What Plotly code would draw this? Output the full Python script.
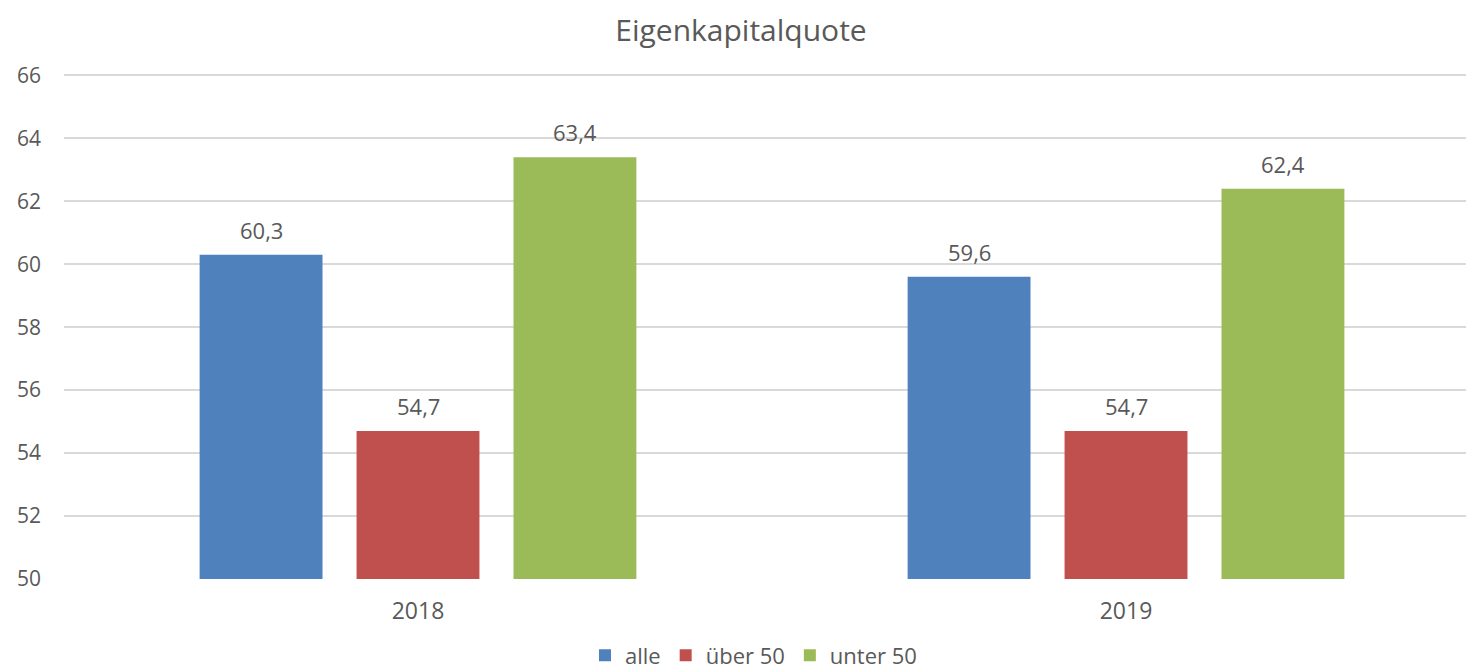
import plotly.graph_objects as go

categories = ["2018", "2019"]
series_names = ["alle", "über 50", "unter 50"]
alle = [60.3, 59.6]
ueber50 = [54.7, 54.7]
unter50 = [63.4, 62.4]
y_ticks = [50, 52, 54, 56, 58, 60, 62, 64, 66]

colors = ["#4F81BD", "#C0504D", "#9BBB59"]
values = [alle, ueber50, unter50]
FONT = "Open Sans"
TXT = "#595959"
AXIS_MIN = 50

fig = go.Figure()
for name, vals, col in zip(series_names, values, colors):
    fig.add_trace(go.Bar(
        x=categories, y=[v - AXIS_MIN for v in vals], base=AXIS_MIN, name=name,
        marker=dict(color=col, line=dict(width=0)),
    ))

slot_px = 157
annotations = []
for i, vals in enumerate(values):
    for ci, v in enumerate(vals):
        annotations.append(dict(
            x=ci, y=v, xref="x", yref="y", text=f"{v:.1f}".replace(".", ","),
            showarrow=False, xshift=(i - 1) * slot_px, yshift=25,
            font=dict(family=FONT, size=22, color=TXT),
        ))

fig.update_layout(
    width=1466, height=663,
    margin=dict(l=56, r=0, t=61, b=92, autoexpand=False),
    paper_bgcolor="white", plot_bgcolor="white",
    title=dict(text="Eigenkapitalquote", x=0.5, xanchor="center", y=0.966, yanchor="middle",
               font=dict(family=FONT, size=30, color=TXT)),
    barmode="group", bargap=0.335, bargroupgap=0.217,
    showlegend=True,
    legend=dict(orientation="h", x=0.489, xanchor="center", y=-0.15, yanchor="middle",
                font=dict(family=FONT, size=22, color=TXT), itemwidth=30,
                traceorder="normal", tracegroupgap=0),
    annotations=annotations,
    font=dict(family=FONT, color=TXT),
)
fig.update_xaxes(type="category", range=[-0.5, 1.4915], showgrid=False, showline=False,
                 automargin=False, ticks="", ticklabelstandoff=16,
                 tickfont=dict(family=FONT, size=23, color=TXT))
fig.update_yaxes(range=[50, 66.2], tickvals=y_ticks, showgrid=True, gridcolor="#D9D9D9",
                 gridwidth=1.5, zeroline=False, showline=False, ticks="", ticklabelstandoff=22,
                 automargin=False, tickfont=dict(family=FONT, size=21, color=TXT))
fig.write_html("out.html")
